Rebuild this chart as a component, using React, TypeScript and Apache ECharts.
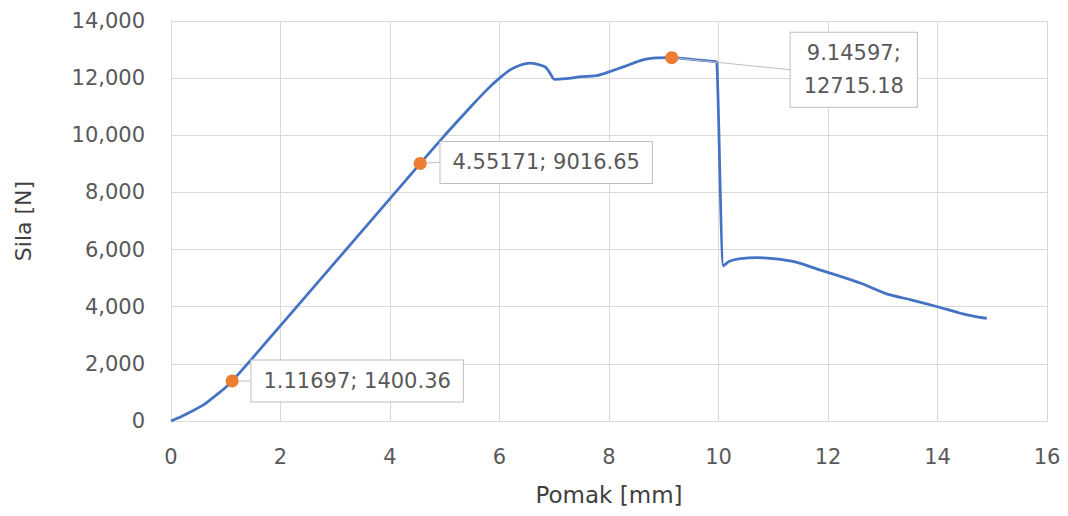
import React, { useEffect, useRef } from "react";
import * as echarts from "echarts";

const xValues = [0, 0.2, 0.4, 0.6, 0.75, 0.9, 1.0, 1.117, 1.5, 2, 3, 4, 4.552, 5.0, 5.5, 5.8, 6.0, 6.2, 6.4, 6.55, 6.7, 6.85, 6.93, 7.0, 7.2, 7.5, 7.8, 8.0, 8.3, 8.6, 8.8, 9.146, 9.5, 9.9, 9.97, 10.09, 10.2, 10.4, 10.7, 11.0, 11.4, 11.85, 12.2, 12.6, 13.1, 13.5, 14.0, 14.4, 14.7, 14.9];
const yValues = [0, 170, 360, 570, 790, 1020, 1180, 1400, 2230, 3340, 5560, 7780, 9017, 10000, 11050, 11650, 12000, 12300, 12470, 12530, 12480, 12370, 12150, 11960, 11980, 12050, 12100, 12220, 12420, 12630, 12700, 12715, 12660, 12590, 12560, 5430, 5590, 5680, 5716, 5680, 5570, 5290, 5080, 4820, 4430, 4250, 4000, 3780, 3650, 3590];

const markX = [1.11697, 4.55171, 9.14597];
const markY = [1400.36, 9016.65, 12715.18];
const markText = ["1.11697; 1400.36", "4.55171; 9016.65", "9.14597;\n12715.18"];
const labelDx = [125, 126, 182];
const labelDy = [0, -1, 12];

const xTicks = { min: 0, max: 16, interval: 2 };
const yTicks = { min: 0, max: 14000, interval: 2000 };

const FONT = "DejaVu Sans";

export default function App() {
  const ref = useRef<HTMLDivElement>(null);
  useEffect(() => {
    document.body.style.margin = "0";
    const chart = echarts.init(ref.current!, null, { renderer: "svg" });
    const lineData = xValues.map((x, i) => [x, yValues[i]]);
    const pts = markX.map((x, i) => ({
      value: [x, markY[i]],
      label: {
        show: true,
        formatter: markText[i],
        lineHeight: i === 2 ? 33 : 25,
        padding: i === 2 ? [4, 13, 4, 13] : [8, 12, 8, 12],
      },
    }));
    chart.setOption({
      animation: false,
      grid: { left: 171, top: 21, right: 21, bottom: 95 },
      xAxis: {
        type: "value",
        ...xTicks,
        name: "Pomak [mm]",
        nameLocation: "middle",
        nameGap: 62,
        nameTextStyle: { fontFamily: FONT, fontSize: 23, color: "#404040" },
        axisLine: { show: true, lineStyle: { color: "#d9d9d9", width: 1 } },
        axisTick: { show: false },
        splitLine: { show: true, lineStyle: { color: "#d9d9d9", width: 1 } },
        axisLabel: { fontFamily: FONT, fontSize: 21, color: "#595959", margin: 25 },
      },
      yAxis: {
        type: "value",
        ...yTicks,
        name: "Sila [N]",
        nameLocation: "middle",
        nameGap: 137,
        nameTextStyle: { fontFamily: FONT, fontSize: 22, color: "#404040" },
        axisLine: { show: true, lineStyle: { color: "#d9d9d9", width: 1 } },
        axisTick: { show: false },
        splitLine: { show: true, lineStyle: { color: "#d9d9d9", width: 1 } },
        axisLabel: {
          fontFamily: FONT,
          fontSize: 21,
          color: "#595959",
          margin: 26,
          formatter: (v: number) => v.toLocaleString("en-US"),
        },
      },
      series: [
        {
          type: "line",
          data: lineData,
          showSymbol: false,
          symbol: "none",
          smooth: 0.2,
          lineStyle: { color: "#4472C4", width: 2.75 },
          z: 2,
        },
        {
          type: "scatter",
          data: pts,
          symbolSize: 13,
          itemStyle: { color: "#ED7D31", opacity: 1 },
          z: 3,
          label: {
            show: true,
            position: "inside",
            fontFamily: FONT,
            fontSize: 21,
            color: "#595959",
            align: "center",
            backgroundColor: "#ffffff",
            borderColor: "#bfbfbf",
            borderWidth: 1,
          },
          labelLine: { show: true, lineStyle: { color: "#bfbfbf", width: 1 } },
          labelLayout: (p: any) => ({ dx: labelDx[p.dataIndex], dy: labelDy[p.dataIndex] }),
        },
      ],
    });
    return () => chart.dispose();
  }, []);
  return <div ref={ref} style={{ width: 1068, height: 516 }} />;
}
